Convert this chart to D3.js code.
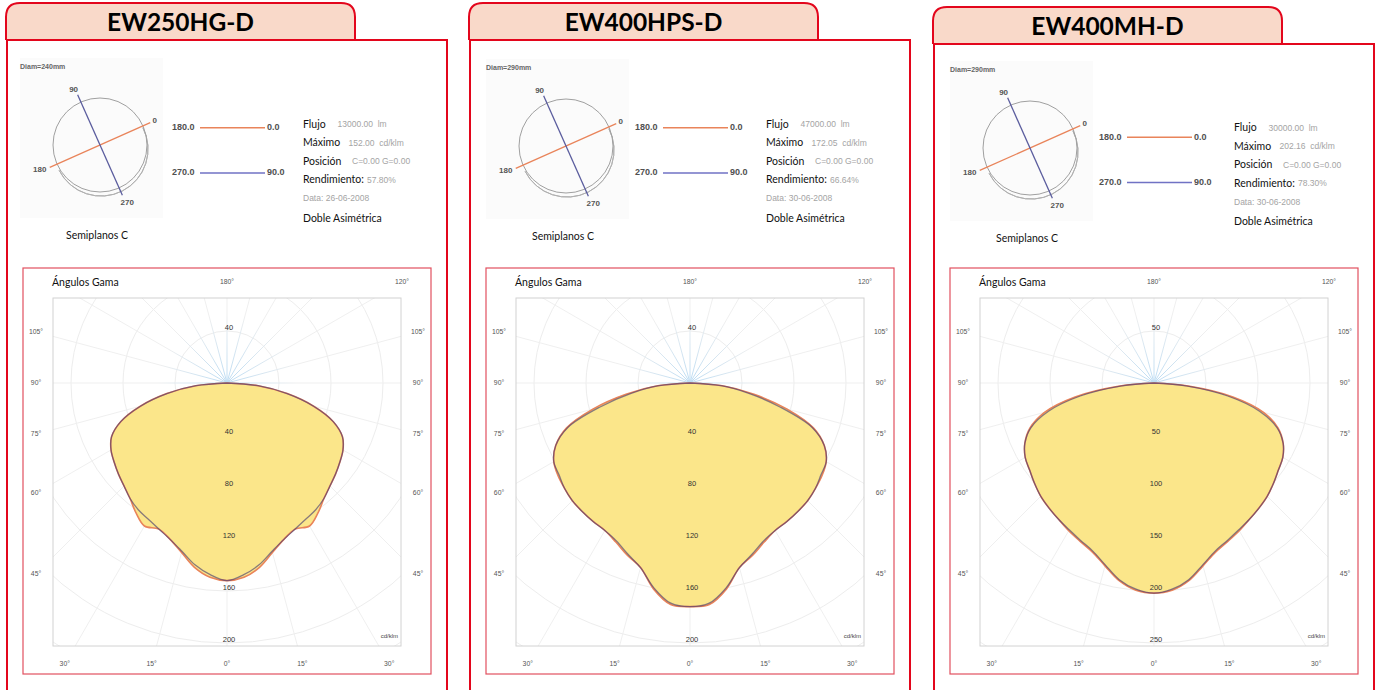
<!DOCTYPE html>
<html><head><meta charset="utf-8">
<script src="https://cdn.jsdelivr.net/npm/d3@7"></script>
<style>body{margin:0;background:#fff;} svg{display:block;}</style>
</head><body><svg id="c" width="1376" height="690"></svg>
<script>
// ---------- DATA ----------
const models      = ["EW250HG-D", "EW400HPS-D", "EW400MH-D"];
const diamLabels  = ["Diam=240mm", "Diam=290mm", "Diam=290mm"];
const flujo       = ["13000.00", "47000.00", "30000.00"];
const maximo      = ["152.00", "172.05", "202.16"];
const posicion    = ["C=0.00 G=0.00", "C=0.00 G=0.00", "C=0.00 G=0.00"];
const rendimiento = ["57.80%", "66.64%", "78.30%"];
const fechas      = ["26-06-2008", "30-06-2008", "30-06-2008"];
const tipo        = "Doble Asimétrica";

// gamma angles (deg) and intensities (cd/klm)
const gammaAngles = [0, 5, 10, 15, 20, 25, 30, 35, 40, 45, 50, 55, 60, 65, 70, 75, 80, 85, 90];
// plane C0-C180 (orange)
const planeC0C180 = [
  [152, 150, 144, 135, 128, 124, 127, 122, 116, 112, 109, 106, 103, 98, 87, 69, 47, 24, 0],
  [172, 171, 161, 147, 141, 135, 131, 130, 129, 128, 126, 124, 121, 114, 101, 77, 50, 25, 0],
  [202, 200, 193, 182, 173, 168, 164, 160, 157, 154, 150, 146, 143, 137, 127, 109, 77, 33, 0]
];
// plane C90-C270 (blue)
const planeC90C270 = [
  [152, 148, 142, 134, 128, 124, 121, 119, 116, 112, 109, 106, 103, 98, 87, 69, 47, 24, 0],
  [172, 170, 160, 147, 140, 134, 131, 130, 129, 128, 126, 123, 121, 114, 100, 72, 46, 24, 0],
  [202, 199, 192, 181, 172, 167, 163, 160, 157, 154, 150, 146, 143, 137, 126, 105, 72, 31, 0]
];
const ringTicks = [
  [40, 80, 120, 160, 200],
  [40, 80, 120, 160, 200],
  [50, 100, 150, 200, 250]
];
// signed gamma tick labels: negative = left half
const gammaTickLabels = [-105, -90, -75, -60, -45, -30, -15, 0, 15, 30, 45, 60, 75, 90, 105, 120, 180];
const legendPlanes = [["180.0", "0.0"], ["270.0", "90.0"]];
const cPlaneLabels = ["0", "90", "180", "270"];

// ---------- LAYOUT ----------
const RED = "#e3061c";
const ORANGE = "#e9845a";
const BLUE = "#7072c4";
const panelX = [0, 463, 927];
const headerDY = [0, 0, 4];
const infoShift = [[0, 0], [0, 0], [4, 3.5]];
const legendDY = [0, 0, 9.5];
const diagShift = [[0, 0], [3, 1], [3, 3]];

const svg = d3.select("#c");
const defs = svg.append("defs");

models.forEach((name, p) => {
  const ox = panelX[p];
  const g = svg.append("g").attr("transform", `translate(${ox},0)`);
  const hd = headerDY[p];

  // main box
  g.append("rect").attr("x", 7).attr("y", 40 + hd).attr("width", 440).attr("height", 700)
    .attr("fill", "#fff").attr("stroke", RED).attr("stroke-width", 2);
  // tab
  const tx0 = 6, tx1 = 355, ty0 = 3 + hd, ty1 = 40 + hd, rr = 14;
  g.append("path")
    .attr("d", `M${tx0},${ty1} L${tx0},${ty0 + rr} Q${tx0},${ty0} ${tx0 + rr},${ty0} L${tx1 - rr},${ty0} Q${tx1},${ty0} ${tx1},${ty0 + rr} L${tx1},${ty1}`)
    .attr("fill", "#f9d9c9").attr("stroke", RED).attr("stroke-width", 2);
  g.append("line").attr("x1", tx0).attr("x2", 447).attr("y1", ty1).attr("y2", ty1)
    .attr("stroke", RED).attr("stroke-width", 2);
  g.append("text").attr("x", (tx0 + tx1) / 2).attr("y", 31 + hd)
    .attr("text-anchor", "middle").attr("font-family", "Lato, 'Open Sans', sans-serif")
    .attr("font-weight", 700).attr("font-size", 24.5).attr("fill", "#000").text(name);

  // ---- C-plane diagram ----
  const ds = diagShift[p];
  const dg = g.append("g").attr("transform", `translate(${ds[0]},${ds[1]})`);
  dg.append("rect").attr("x", 20).attr("y", 58).attr("width", 143).attr("height", 160).attr("fill", "#fbfbfb");
  dg.append("text").attr("x", 20).attr("y", 67).attr("font-family", "Liberation Sans, sans-serif")
    .attr("font-size", 7).attr("font-weight", 700).attr("fill", "#666").attr("dominant-baseline", "middle").text(diamLabels[p]);
  const dcx = 100, dcy = 145, dr = 47;
  const arc2 = d3.arc().innerRadius(dr).outerRadius(dr).startAngle(Math.PI * 0.35).endAngle(Math.PI * 1.35);
  dg.append("path").attr("d", arc2()).attr("transform", `translate(${dcx + 1},${dcy + 4})`)
    .attr("fill", "none").attr("stroke", "#b0b0b0").attr("stroke-width", 1);
  dg.append("circle").attr("cx", dcx).attr("cy", dcy).attr("r", dr).attr("fill", "none").attr("stroke", "#a0a0a0").attr("stroke-width", 1);
  const rot = 24 * Math.PI / 180, L = 55;
  dg.append("line").attr("x1", dcx - L * Math.cos(rot)).attr("y1", dcy + L * Math.sin(rot))
    .attr("x2", dcx + L * Math.cos(rot)).attr("y2", dcy - L * Math.sin(rot))
    .attr("stroke", ORANGE).attr("stroke-width", 1.3);
  dg.append("line").attr("x1", dcx - L * Math.sin(rot)).attr("y1", dcy - L * Math.cos(rot))
    .attr("x2", dcx + L * Math.sin(rot)).attr("y2", dcy + L * Math.cos(rot))
    .attr("stroke", "#5b5d9e").attr("stroke-width", 1.3);
  const lblPos = [
    [dcx + (L + 5) * Math.cos(rot), dcy - (L + 5) * Math.sin(rot)],
    [dcx - (L + 5) * Math.sin(rot) - 2, dcy - (L + 5) * Math.cos(rot)],
    [dcx - (L + 11) * Math.cos(rot), dcy + (L + 7) * Math.sin(rot)],
    [dcx + (L + 7) * Math.sin(rot) + 2, dcy + (L + 8) * Math.cos(rot)]
  ];
  cPlaneLabels.forEach((t, i) => {
    dg.append("text").attr("x", lblPos[i][0]).attr("y", lblPos[i][1]).attr("text-anchor", "middle")
      .attr("dominant-baseline", "middle").attr("font-family", "Liberation Sans, sans-serif")
      .attr("font-size", 8).attr("font-weight", 700).attr("fill", "#555").text(t);
  });
  dg.append("text").attr("x", 97).attr("y", 236).attr("text-anchor", "middle").attr("dominant-baseline", "middle")
    .attr("font-family", "Lato, sans-serif").attr("font-size", 10.5).attr("fill", "#111").text("Semiplanos C");

  // ---- legend ----
  const lg = g.append("g").attr("transform", `translate(0,${legendDY[p]})`);
  [[ORANGE, 127.7], [BLUE, 173]].forEach((c, i) => {
    lg.append("text").attr("x", 172).attr("y", c[1]).attr("dominant-baseline", "middle")
      .attr("font-family", "Liberation Sans, sans-serif").attr("font-size", 9).attr("font-weight", 700)
      .attr("fill", "#505050").text(legendPlanes[i][0]);
    lg.append("line").attr("x1", 200).attr("x2", 265).attr("y1", c[1]).attr("y2", c[1])
      .attr("stroke", c[0]).attr("stroke-width", 1.5);
    lg.append("text").attr("x", 267).attr("y", c[1]).attr("dominant-baseline", "middle")
      .attr("font-family", "Liberation Sans, sans-serif").attr("font-size", 9).attr("font-weight", 700)
      .attr("fill", "#505050").text(legendPlanes[i][1]);
  });

  // ---- info block ----
  const is = infoShift[p];
  const ig = g.append("g").attr("transform", `translate(${303 + is[0]},${is[1]})`);
  const rows = [
    ["Flujo", flujo[p] + "  lm", 34.5, 125],
    ["Máximo", maximo[p] + "  cd/klm", 45.5, 143.5],
    ["Posición", posicion[p], 49, 162],
    ["Rendimiento:", rendimiento[p], 64, 180.5]
  ];
  rows.forEach(r => {
    ig.append("text").attr("x", 0).attr("y", r[3]).attr("dominant-baseline", "middle")
      .attr("font-family", "Lato, sans-serif").attr("font-size", 10.5).attr("fill", "#111").text(r[0]);
    ig.append("text").attr("x", r[2]).attr("y", r[3]).attr("dominant-baseline", "middle")
      .attr("font-family", "Liberation Sans, sans-serif").attr("font-size", 8.5).attr("fill", "#a4a4a4")
      .style("white-space", "pre").text(r[1]);
  });
  ig.append("text").attr("x", 0).attr("y", 199).attr("dominant-baseline", "middle")
    .attr("font-family", "Liberation Sans, sans-serif").attr("font-size", 8.5).attr("fill", "#a4a4a4")
    .text("Data: " + fechas[p]);
  ig.append("text").attr("x", 0).attr("y", 219).attr("dominant-baseline", "middle")
    .attr("font-family", "Lato, sans-serif").attr("font-size", 10.5).attr("fill", "#111").text(tipo);

  // ---- polar chart ----
  g.append("rect").attr("x", 23).attr("y", 268).attr("width", 408).attr("height", 406)
    .attr("fill", "#fff").attr("stroke", "#e2505f").attr("stroke-width", 1.2);
  g.append("text").attr("x", 52).attr("y", 283).attr("dominant-baseline", "middle")
    .attr("font-family", "Lato, sans-serif").attr("font-size", 10.5).attr("fill", "#111").text("Ángulos Gama");

  const box = {l: 53, r: 401, t: 298, b: 646};
  const cx = (box.l + box.r) / 2, cy = 383;
  const ticks = ringTicks[p];
  const rScale = d3.scaleLinear().domain([0, ticks[ticks.length - 1]]).range([0, 260]);
  const step = ticks[1] - ticks[0];

  const clipId = "clip" + p;
  defs.append("clipPath").attr("id", clipId).append("rect")
    .attr("x", box.l).attr("y", box.t).attr("width", box.r - box.l).attr("height", box.b - box.t);
  const gradId = "rg" + p;
  const grad = defs.append("radialGradient").attr("id", gradId).attr("gradientUnits", "userSpaceOnUse")
    .attr("cx", cx).attr("cy", cy).attr("r", 70);
  grad.append("stop").attr("offset", "0%").attr("stop-color", "#bcdcf3");
  grad.append("stop").attr("offset", "100%").attr("stop-color", "#efefef");

  const pg = g.append("g");
  const grid = pg.append("g").attr("clip-path", `url(#${clipId})`);
  const ringVals = d3.range(step, ticks[ticks.length - 1] + step * 1.5, step);
  grid.selectAll("circle.ring").data(ringVals).enter().append("circle")
    .attr("cx", cx).attr("cy", cy).attr("r", d => rScale(d))
    .attr("fill", "none").attr("stroke", "#ededed").attr("stroke-width", 1);
  const radials = d3.range(0, 360, 15);
  grid.selectAll("line.rad").data(radials).enter().append("line")
    .attr("x1", cx).attr("y1", cy)
    .attr("x2", d => cx + 500 * Math.sin(d * Math.PI / 180))
    .attr("y2", d => cy + 500 * Math.cos(d * Math.PI / 180))
    .attr("stroke", `url(#${gradId})`).attr("stroke-width", 1);
  pg.append("rect").attr("x", box.l).attr("y", box.t).attr("width", box.r - box.l).attr("height", box.b - box.t)
    .attr("fill", "none").attr("stroke", "#d2d2d2").attr("stroke-width", 1);

  // curves
  function pts(vals) {
    const left = gammaAngles.map((gm, i) => ({a: Math.PI + gm * Math.PI / 180, v: vals[i]})).reverse();
    const right = gammaAngles.slice(1).map((gm, i) => ({a: Math.PI - gm * Math.PI / 180, v: vals[i + 1]}));
    return left.concat(right);
  }
  const lineR = d3.lineRadial().angle(d => d.a).radius(d => rScale(d.v)).curve(d3.curveCatmullRom.alpha(0.5));
  const cg = pg.append("g").attr("transform", `translate(${cx},${cy})`);
  const dO = lineR(pts(planeC0C180[p])), dB = lineR(pts(planeC90C270[p]));
  cg.append("path").attr("d", dO).attr("fill", "#fbe68a").attr("stroke", "none");
  cg.append("path").attr("d", dB).attr("fill", "#fbe68a").attr("stroke", "none");
  cg.append("path").attr("d", dO).attr("fill", "none").attr("stroke", ORANGE).attr("stroke-width", 1.6);
  cg.append("path").attr("d", dB).attr("fill", "none").attr("stroke", "#3d3470").attr("stroke-opacity", 0.6).attr("stroke-width", 1.3);

  // ring labels
  const rl = pg.append("g").attr("font-family", "Liberation Sans, sans-serif").attr("font-size", 7.5)
    .attr("fill", "#333").attr("text-anchor", "middle");
  rl.append("text").attr("x", cx + 2).attr("y", cy - rScale(ticks[0]) - 3).attr("dominant-baseline", "middle").text(ticks[0]);
  ticks.forEach(t => {
    rl.append("text").attr("x", cx + 2).attr("y", cy + rScale(t) - 3).attr("dominant-baseline", "middle").text(t);
  });
  pg.append("text").attr("x", box.r - 3).attr("y", box.b - 8).attr("text-anchor", "end")
    .attr("font-family", "Liberation Sans, sans-serif").attr("font-size", 6).attr("fill", "#444").text("cd/klm");

  // gamma tick labels on an expanded box
  const eb = {l: box.l - 17, r: box.r + 17, t: box.t - 16, b: box.b + 18};
  function rayHit(dx, dy) {
    let t = Infinity;
    if (dx > 1e-9) t = Math.min(t, (eb.r - cx) / dx);
    if (dx < -1e-9) t = Math.min(t, (eb.l - cx) / dx);
    if (dy > 1e-9) t = Math.min(t, (eb.b - cy) / dy);
    if (dy < -1e-9) t = Math.min(t, (eb.t - cy) / dy);
    return [cx + dx * t, cy + dy * t];
  }
  const al = pg.append("g").attr("font-family", "Liberation Sans, sans-serif").attr("font-size", 6.8)
    .attr("fill", "#555").attr("text-anchor", "middle");
  gammaTickLabels.forEach(sg => {
    const gm = Math.abs(sg) * Math.PI / 180, s = sg < 0 ? -1 : 1;
    const pt = rayHit(s * Math.sin(gm), Math.cos(gm));
    al.append("text").attr("x", pt[0]).attr("y", pt[1]).attr("dominant-baseline", "middle").text(Math.abs(sg) + "°");
  });
});
</script></body></html>
